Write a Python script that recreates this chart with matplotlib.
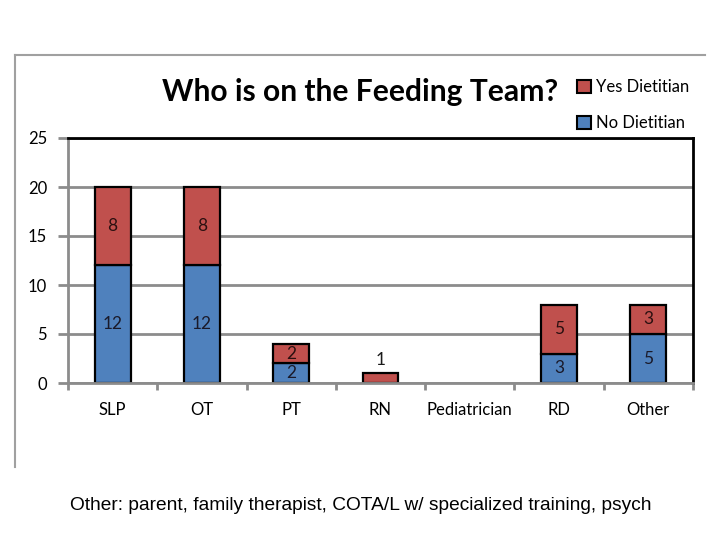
import matplotlib.pyplot as plt
import numpy as np
from matplotlib.lines import Line2D
from matplotlib.patches import Patch

categories = ["SLP", "OT", "PT", "RN", "Pediatrician", "RD", "Other"]
no_dietitian = [12, 12, 2, 0, 0, 3, 5]
yes_dietitian = [8, 8, 2, 1, 0, 5, 3]
y_ticks = [0, 5, 10, 15, 20, 25]

blue = "#4F81BD"
red = "#C0504D"
grid_gray = "#8c8c8c"
calibri_like = ["Lato", "DejaVu Sans"]

fig = plt.figure(figsize=(7.2, 5.4), dpi=100)

# slide frame lines (top and left)
fig.add_artist(Line2D([15 / 720, 705 / 720], [1 - 55 / 540, 1 - 55 / 540],
                      color="#a0a0a0", lw=1.5, transform=fig.transFigure))
fig.add_artist(Line2D([15 / 720, 15 / 720], [1 - 55 / 540, 1 - 467 / 540],
                      color="#a0a0a0", lw=1.5, transform=fig.transFigure))

ax = fig.add_axes([68 / 720, 1 - 383 / 540, 625 / 720, 245 / 540])
x = np.arange(len(categories))
w = 0.4

# zero-height segments are not drawn
nd = np.array(no_dietitian)
yd = np.array(yes_dietitian)
m1 = nd > 0
m2 = yd > 0
ax.bar(x[m1], nd[m1], w, color=blue, edgecolor="black", linewidth=1.6, zorder=3)
ax.bar(x[m2], yd[m2], w, bottom=nd[m2], color=red, edgecolor="black",
       linewidth=1.6, zorder=3)

for i in range(len(categories)):
    n, yv = no_dietitian[i], yes_dietitian[i]
    if n > 0:
        ax.text(x[i], n / 2, str(n), ha="center", va="center", fontsize=12.5,
                color="#1a1a2a", family=calibri_like, zorder=4)
    if yv > 0:
        if yv + n < 2:
            ax.text(x[i], n + yv + 1.3, str(yv), ha="center", va="center",
                    fontsize=12.5, color="#1a1a1a", family=calibri_like, zorder=4)
        else:
            ax.text(x[i], n + yv / 2, str(yv), ha="center", va="center",
                    fontsize=12.5, color="#2a1010", family=calibri_like, zorder=4)

ax.set_xlim(-0.5, len(categories) - 0.5)
ax.set_ylim(0, 25)
ax.set_yticks(y_ticks)
ax.set_yticklabels([str(t) for t in y_ticks], family=calibri_like, fontsize=12)
ax.yaxis.grid(True, color=grid_gray, lw=2, zorder=0)
ax.set_xticks(x)
ax.set_xticklabels(categories, family=calibri_like, fontsize=12)
ax.set_xticks(np.arange(len(categories) + 1) - 0.5, minor=True)
ax.tick_params(axis="x", which="major", length=0, pad=14)
ax.tick_params(axis="x", which="minor", length=5, width=2, color=grid_gray)
ax.tick_params(axis="y", length=7, width=2, color=grid_gray, pad=8)

for side in ["left", "bottom"]:
    ax.spines[side].set_color(grid_gray)
    ax.spines[side].set_linewidth(2)
for side in ["top", "right"]:
    ax.spines[side].set_color("black")
    ax.spines[side].set_linewidth(2)
ax.spines["bottom"].set_zorder(5)

fig.text(360 / 720, 1 - 92 / 540, "Who is on the Feeding Team?", ha="center",
         va="center", fontsize=21.6, fontweight="bold", family=calibri_like)

handles = [Patch(facecolor=red, edgecolor="black", lw=1.5),
           Patch(facecolor=blue, edgecolor="black", lw=1.5)]
fig.legend(handles, ["Yes Dietitian", "No Dietitian"], loc="upper left",
           bbox_to_anchor=(574 / 720, 1 - 76 / 540), frameon=False,
           prop={"family": calibri_like, "size": 12}, handlelength=0.8,
           handleheight=0.8, handletextpad=0.3, labelspacing=1.2,
           borderaxespad=0, borderpad=0.2)

fig.text(70 / 720, 1 - 506 / 540,
         "Other: parent, family therapist, COTA/L w/ specialized training, psych",
         ha="left", va="center", fontsize=13.8, family=["Liberation Sans", "DejaVu Sans"])

fig.savefig("out.png", dpi=100)
